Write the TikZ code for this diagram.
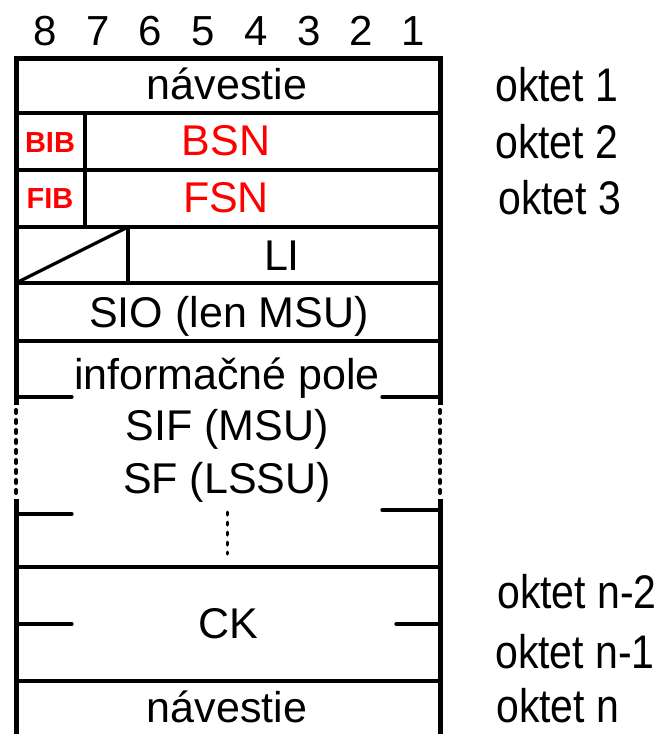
\documentclass[tikz,border=0pt]{standalone}
\usepackage{fontspec}
\setmainfont{Liberation Sans}
\newcommand{\octtxt}[1]{\scalebox{1}[1.15]{#1}}
\begin{document}
\begin{tikzpicture}[x=1pt,y=-1pt,
  frame/.style={line width=5pt,line join=miter},
  inner/.style={line width=3.2pt},
  tick/.style={line width=3.2pt,line cap=round},
  dotline/.style={line width=4pt,line cap=round,dash pattern=on 3pt off 7pt},
  lbl/.style={anchor=base,inner sep=0pt,font=\fontsize{43}{50}\selectfont},
  numlbl/.style={anchor=base,inner sep=0pt,font=\fontsize{42}{50}\selectfont},
  oct/.style={anchor=base west,inner sep=0pt,font=\fontsize{41}{50}\selectfont},
  redlbl/.style={lbl,text=red},
  bitlbl/.style={anchor=base,inner sep=0pt,text=red,font=\fontsize{29}{35}\selectfont\bfseries}]
\useasboundingbox (0,0) rectangle (668,734);
% frame
\draw[frame] (16,405) -- (16,58) -- (440,58) -- (440,405);
\draw[frame] (16,499) -- (16,740);
\draw[frame] (440,499) -- (440,740);
\draw[dotline] (16,410) -- (16,495);
\draw[dotline] (440,410) -- (440,495);
% horizontal separators
\foreach \yy in {113,170,227,283,341,567,681}
  \draw[inner] (16,\yy) -- (440,\yy);
% vertical dividers
\draw[inner] (85,113) -- (85,227);
\draw[inner] (128,227) -- (128,283);
\draw[inner] (16,283) -- (128,227);
% ticks
\draw[tick] (16,397) -- (72,397);
\draw[tick] (382,397) -- (440,397);
\draw[tick] (16,514) -- (72,514);
\draw[tick] (382,510) -- (440,510);
\draw[tick] (16,624) -- (72,624);
\draw[tick] (396,624) -- (440,624);
\draw[line width=3pt,line cap=round,dash pattern=on 3pt off 7pt] (227,512) -- (227,554);
% bit numbers
\foreach \n/\xx in {8/45,7/98,6/150,5/203,4/256,3/309,2/361,1/413}
  \node[numlbl] (b\n) at (\xx,45) {\n};
% field labels
\node[lbl] (nav1) at (227,99) {návestie};
\node[bitlbl] (bib) at (50,152) {BIB};
\node[redlbl] (bsn) at (226,155) {BSN};
\node[bitlbl] (fib) at (50,208) {FIB};
\node[redlbl] (fsn) at (226,212) {FSN};
\node[lbl] (li) at (282,270) {LI};
\node[lbl] (sio) at (229,327) {SIO (len MSU)};
\node[lbl] (info) at (227,389) {informačné pole};
\node[lbl] (sif) at (227,440) {SIF (MSU)};
\node[lbl] (sf) at (227,493) {SF (LSSU)};
\node[lbl] (ck) at (228,638) {CK};
\node[lbl] (nav2) at (227,722) {návestie};
% octet labels
\node[oct] (o1) at (495,101) {\octtxt{oktet 1}};
\node[oct] (o2) at (495,158) {\octtxt{oktet 2}};
\node[oct] (o3) at (498,214) {\octtxt{oktet 3}};
\node[oct] (on2) at (497,608) {\octtxt{oktet n-2}};
\node[oct] (on1) at (495,668) {\octtxt{oktet n-1}};
\node[oct] (on) at (496,722) {\octtxt{oktet n}};
\end{tikzpicture}
\end{document}
